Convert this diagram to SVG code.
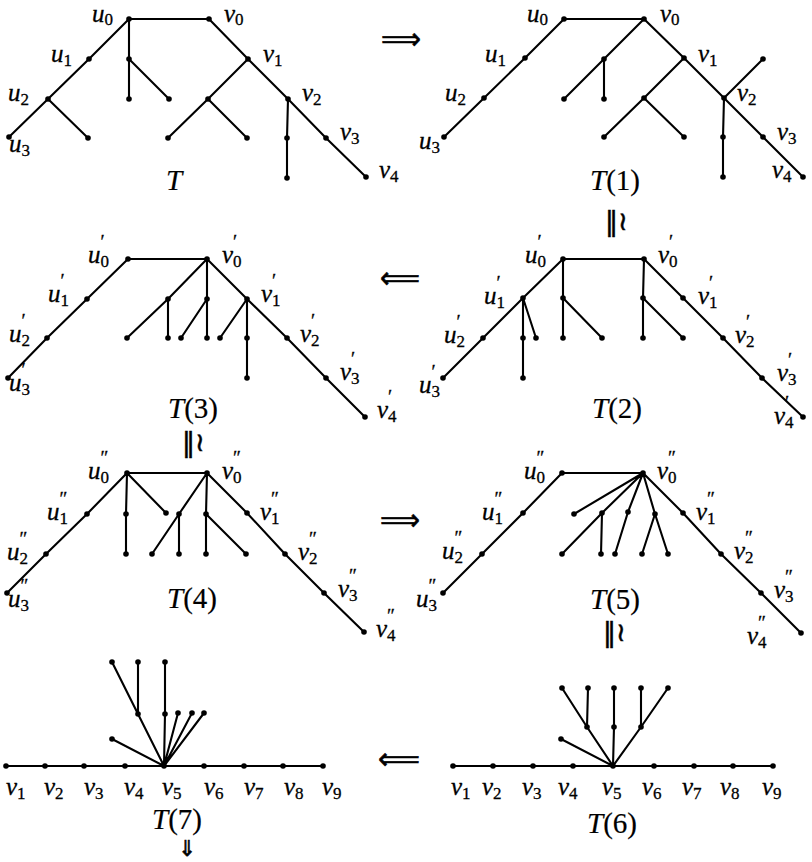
<svg xmlns="http://www.w3.org/2000/svg" width="812" height="862" viewBox="0 0 812 862">
<style>
.e{stroke:#000;stroke-width:2.1;fill:none;stroke-linecap:round;stroke-linejoin:round}
.l{font-family:"Liberation Serif",serif;font-style:italic;font-size:25px;fill:#000;stroke:#000;stroke-width:0.3}
.s{font-style:normal;font-size:17px}
.p{font-style:normal;font-size:19px}
.t{font-family:"Liberation Serif",serif;font-size:29px;fill:#000;text-anchor:middle;stroke:#000;stroke-width:0.2}
.t tspan.i{font-style:italic}
.a{font-family:"DejaVu Sans",sans-serif;font-size:30px;fill:#000;stroke:#000;stroke-width:0.6}
.dn{font-family:"DejaVu Sans",sans-serif;font-size:22px;fill:#000;stroke:#000;stroke-width:0.6}
.iso{font-family:"DejaVu Sans",sans-serif;font-size:26px;fill:#000;stroke:#000;stroke-width:0.5}
</style>
<defs><circle id="d" cx="0" cy="0" r="2.8" fill="#000"/></defs>
<rect width="812" height="862" fill="#fff"/>

<g id="connectors">
<path class="e" d="M129,19 L209,19 M129,19 L89,59 L48,99 L9,137 M48,99 L88,138 M129,19 L129,59 L129,99 M129,59 L169,99 M209,19 L248,59 L288,99 L326,138 L366,177 M248,59 L208,99 L168,138 M208,99 L247,138 M288,99 L287,138 L287,178"/>
<path class="e" d="M564,19 L644,19 M564,19 L525,58 L484,98 L444,137 M644,19 L604,59 L564,99 M604,59 L604,99 M644,19 L684,58 L724,98 L763,137 L803,177 M684,58 L644,98 L604,137 M644,98 L684,137 M724,98 L763,59 M724,98 L723,137 L723,177"/>
<path class="e" d="M128,259 L207,259 M128,259 L87,299 L47,338 L8,378 M207,259 L168,299 L127,338 M168,299 L168,338 M207,259 L207,299 L207,338 M207,299 L181,338 M207,259 L247,299 L287,338 L326,378 L365,417 M247,299 L220,338 M247,299 L247,338 L247,378"/>
<path class="e" d="M563,259 L644,259 M563,259 L523,298 L483,338 L443,378 M523,298 L523,338 L523,378 M523,298 L536,338 M563,259 L563,298 L563,338 M563,298 L602,338 M644,259 L643,298 L643,338 M643,298 L683,338 M644,259 L683,298 L723,338 L762,378 L803,417"/>
<path class="e" d="M127,473 L207,473 M127,473 L87,514 L46,554 L7,593 M127,473 L126,514 L126,554 M127,473 L166,513 M207,473 L179,514 L152,554 M179,514 L179,554 M207,473 L206,514 L206,554 M206,514 L246,554 M207,473 L247,513 L285,554 L324,593 L364,632"/>
<path class="e" d="M562,473 L643,473 M562,473 L523,513 L482,554 L443,593 M643,473 L574,514 M643,473 L602,513 L562,554 M602,513 L601,554 M643,473 L628,512 L615,554 M643,473 L655,514 L642,554 M655,514 L668,554 M643,473 L683,513 L721,554 L761,593 L801,633"/>
<path class="e" d="M6,766 L323,766 M164,766 L112,739 M164,766 L138,714 L112,662 M138,714 L138,662 M164,766 L165,714 L165,662 M164,766 L178,713 M164,766 L192,713 M164,766 L204,713"/>
<path class="e" d="M453,766 L773,766 M613,766 L561,739 M613,766 L587,727 L562,688 M587,727 L588,688 M613,766 L614,727 L614,688 M613,766 L641,727 L668,688 M641,727 L641,688"/>
</g>

<g id="arrows">
<text class="a" x="381" y="49" textLength="40" lengthAdjust="spacingAndGlyphs">⟹</text>
<text class="a" x="380" y="288" textLength="40" lengthAdjust="spacingAndGlyphs">⟸</text>
<text class="a" x="380" y="530" textLength="40" lengthAdjust="spacingAndGlyphs">⟹</text>
<text class="a" x="378" y="769" textLength="42" lengthAdjust="spacingAndGlyphs">⟸</text>
<text class="iso" x="605" y="230">‖≀</text>
<text class="iso" x="182" y="451">‖≀</text>
<text class="iso" x="603" y="641">‖≀</text>
<text class="dn" x="178" y="856">⇓</text>
</g>

<g id="T">
<text class="t" x="174" y="190"><tspan class="i">T</tspan></text>
<g id="T-u0"><use href="#d" x="129" y="19"/><text class="l" x="92" y="22">u<tspan class="s" dy="3">0</tspan></text></g>
<g id="T-v0"><use href="#d" x="209" y="19"/><text class="l" x="224" y="22">v<tspan class="s" dy="3">0</tspan></text></g>
<g id="T-u1"><use href="#d" x="89" y="59"/><text class="l" x="51" y="62">u<tspan class="s" dy="4">1</tspan></text></g>
<g id="T-v1"><use href="#d" x="248" y="59"/><text class="l" x="263" y="62">v<tspan class="s" dy="4">1</tspan></text></g>
<g id="T-u2"><use href="#d" x="48" y="99"/><text class="l" x="8" y="101">u<tspan class="s" dy="4">2</tspan></text></g>
<g id="T-v2"><use href="#d" x="288" y="99"/><text class="l" x="302" y="101">v<tspan class="s" dy="4">2</tspan></text></g>
<g id="T-u3"><use href="#d" x="9" y="137"/><text class="l" x="9" y="152">u<tspan class="s" dy="4">3</tspan></text></g>
<g id="T-v3"><use href="#d" x="326" y="138"/><text class="l" x="340" y="140">v<tspan class="s" dy="4">3</tspan></text></g>
<g id="T-v4"><use href="#d" x="366" y="177"/><text class="l" x="379" y="178">v<tspan class="s" dy="4">4</tspan></text></g>
<g id="T-n1"><use href="#d" x="88" y="138"/></g>
<g id="T-n2"><use href="#d" x="129" y="59"/></g>
<g id="T-n3"><use href="#d" x="129" y="99"/></g>
<g id="T-n4"><use href="#d" x="169" y="99"/></g>
<g id="T-n5"><use href="#d" x="208" y="99"/></g>
<g id="T-n6"><use href="#d" x="168" y="138"/></g>
<g id="T-n7"><use href="#d" x="247" y="138"/></g>
<g id="T-n8"><use href="#d" x="287" y="138"/></g>
<g id="T-n9"><use href="#d" x="287" y="178"/></g>
</g>

<g id="T1">
<text class="t" x="615" y="190"><tspan class="i">T</tspan>(1)</text>
<g id="T1-u0"><use href="#d" x="564" y="19"/><text class="l" x="527" y="22">u<tspan class="s" dy="3">0</tspan></text></g>
<g id="T1-v0"><use href="#d" x="644" y="19"/><text class="l" x="660" y="22">v<tspan class="s" dy="3">0</tspan></text></g>
<g id="T1-u1"><use href="#d" x="525" y="58"/><text class="l" x="485" y="62">u<tspan class="s" dy="4">1</tspan></text></g>
<g id="T1-v1"><use href="#d" x="684" y="58"/><text class="l" x="698" y="62">v<tspan class="s" dy="4">1</tspan></text></g>
<g id="T1-u2"><use href="#d" x="484" y="98"/><text class="l" x="445" y="101">u<tspan class="s" dy="4">2</tspan></text></g>
<g id="T1-v2"><use href="#d" x="724" y="98"/><text class="l" x="737" y="101">v<tspan class="s" dy="4">2</tspan></text></g>
<g id="T1-u3"><use href="#d" x="444" y="137"/><text class="l" x="419" y="149">u<tspan class="s" dy="4">3</tspan></text></g>
<g id="T1-v3"><use href="#d" x="763" y="137"/><text class="l" x="777" y="140">v<tspan class="s" dy="4">3</tspan></text></g>
<g id="T1-v4"><use href="#d" x="803" y="177"/><text class="l" x="772" y="178">v<tspan class="s" dy="4">4</tspan></text></g>
<g id="T1-n1"><use href="#d" x="604" y="59"/></g>
<g id="T1-n2"><use href="#d" x="564" y="99"/></g>
<g id="T1-n3"><use href="#d" x="604" y="99"/></g>
<g id="T1-n4"><use href="#d" x="644" y="98"/></g>
<g id="T1-n5"><use href="#d" x="604" y="137"/></g>
<g id="T1-n6"><use href="#d" x="684" y="137"/></g>
<g id="T1-n7"><use href="#d" x="763" y="59"/></g>
<g id="T1-n8"><use href="#d" x="723" y="137"/></g>
<g id="T1-n9"><use href="#d" x="723" y="177"/></g>
</g>

<g id="T3">
<text class="t" x="193" y="418"><tspan class="i">T</tspan>(3)</text>
<g id="T3-u0"><use href="#d" x="128" y="259"/><text class="l" x="88" y="263">u<tspan class="s" dy="4">0</tspan><tspan class="p" dx="-8.5" dy="-19">′</tspan></text></g>
<g id="T3-v0"><use href="#d" x="207" y="259"/><text class="l" x="222" y="263">v<tspan class="s" dy="4">0</tspan><tspan class="p" dx="-8.5" dy="-19">′</tspan></text></g>
<g id="T3-u1"><use href="#d" x="87" y="299"/><text class="l" x="48" y="302">u<tspan class="s" dy="4">1</tspan><tspan class="p" dx="-8.5" dy="-19">′</tspan></text></g>
<g id="T3-v1"><use href="#d" x="247" y="299"/><text class="l" x="261" y="302">v<tspan class="s" dy="4">1</tspan><tspan class="p" dx="-8.5" dy="-19">′</tspan></text></g>
<g id="T3-u2"><use href="#d" x="47" y="338"/><text class="l" x="9" y="342">u<tspan class="s" dy="4">2</tspan><tspan class="p" dx="-8.5" dy="-19">′</tspan></text></g>
<g id="T3-v2"><use href="#d" x="287" y="338"/><text class="l" x="300" y="342">v<tspan class="s" dy="4">2</tspan><tspan class="p" dx="-8.5" dy="-19">′</tspan></text></g>
<g id="T3-u3"><use href="#d" x="8" y="378"/><text class="l" x="9" y="391">u<tspan class="s" dy="4">3</tspan><tspan class="p" dx="-8.5" dy="-19">′</tspan></text></g>
<g id="T3-v3"><use href="#d" x="326" y="378"/><text class="l" x="340" y="380">v<tspan class="s" dy="4">3</tspan><tspan class="p" dx="-8.5" dy="-19">′</tspan></text></g>
<g id="T3-v4"><use href="#d" x="365" y="417"/><text class="l" x="377" y="418">v<tspan class="s" dy="4">4</tspan><tspan class="p" dx="-8.5" dy="-19">′</tspan></text></g>
<g id="T3-n1"><use href="#d" x="168" y="299"/></g>
<g id="T3-n2"><use href="#d" x="127" y="338"/></g>
<g id="T3-n3"><use href="#d" x="168" y="338"/></g>
<g id="T3-n4"><use href="#d" x="207" y="299"/></g>
<g id="T3-n5"><use href="#d" x="207" y="338"/></g>
<g id="T3-n6"><use href="#d" x="181" y="338"/></g>
<g id="T3-n7"><use href="#d" x="220" y="338"/></g>
<g id="T3-n8"><use href="#d" x="247" y="338"/></g>
<g id="T3-n9"><use href="#d" x="247" y="378"/></g>
</g>

<g id="T2">
<text class="t" x="617" y="418"><tspan class="i">T</tspan>(2)</text>
<g id="T2-u0"><use href="#d" x="563" y="259"/><text class="l" x="525" y="263">u<tspan class="s" dy="4">0</tspan><tspan class="p" dx="-8.5" dy="-19">′</tspan></text></g>
<g id="T2-v0"><use href="#d" x="644" y="259"/><text class="l" x="658" y="263">v<tspan class="s" dy="4">0</tspan><tspan class="p" dx="-8.5" dy="-19">′</tspan></text></g>
<g id="T2-u1"><use href="#d" x="523" y="298"/><text class="l" x="484" y="304">u<tspan class="s" dy="4">1</tspan><tspan class="p" dx="-8.5" dy="-19">′</tspan></text></g>
<g id="T2-v1"><use href="#d" x="683" y="298"/><text class="l" x="698" y="304">v<tspan class="s" dy="4">1</tspan><tspan class="p" dx="-8.5" dy="-19">′</tspan></text></g>
<g id="T2-u2"><use href="#d" x="483" y="338"/><text class="l" x="444" y="343">u<tspan class="s" dy="4">2</tspan><tspan class="p" dx="-8.5" dy="-19">′</tspan></text></g>
<g id="T2-v2"><use href="#d" x="723" y="338"/><text class="l" x="735" y="343">v<tspan class="s" dy="4">2</tspan><tspan class="p" dx="-8.5" dy="-19">′</tspan></text></g>
<g id="T2-u3"><use href="#d" x="443" y="378"/><text class="l" x="419" y="393">u<tspan class="s" dy="4">3</tspan><tspan class="p" dx="-8.5" dy="-19">′</tspan></text></g>
<g id="T2-v3"><use href="#d" x="762" y="378"/><text class="l" x="777" y="381">v<tspan class="s" dy="4">3</tspan><tspan class="p" dx="-8.5" dy="-19">′</tspan></text></g>
<g id="T2-v4"><use href="#d" x="803" y="417"/><text class="l" x="774" y="424">v<tspan class="s" dy="4">4</tspan><tspan class="p" dx="-8.5" dy="-19">′</tspan></text></g>
<g id="T2-n1"><use href="#d" x="523" y="338"/></g>
<g id="T2-n2"><use href="#d" x="523" y="378"/></g>
<g id="T2-n3"><use href="#d" x="536" y="338"/></g>
<g id="T2-n4"><use href="#d" x="563" y="298"/></g>
<g id="T2-n5"><use href="#d" x="563" y="338"/></g>
<g id="T2-n6"><use href="#d" x="602" y="338"/></g>
<g id="T2-n7"><use href="#d" x="643" y="298"/></g>
<g id="T2-n8"><use href="#d" x="643" y="338"/></g>
<g id="T2-n9"><use href="#d" x="683" y="338"/></g>
</g>

<g id="T4">
<text class="t" x="192" y="608"><tspan class="i">T</tspan>(4)</text>
<g id="T4-u0"><use href="#d" x="127" y="473"/><text class="l" x="88" y="479">u<tspan class="s" dy="4">0</tspan><tspan class="p" dx="-8.5" dy="-19">″</tspan></text></g>
<g id="T4-v0"><use href="#d" x="207" y="473"/><text class="l" x="222" y="479">v<tspan class="s" dy="4">0</tspan><tspan class="p" dx="-8.5" dy="-19">″</tspan></text></g>
<g id="T4-u1"><use href="#d" x="87" y="514"/><text class="l" x="47" y="520">u<tspan class="s" dy="4">1</tspan><tspan class="p" dx="-8.5" dy="-19">″</tspan></text></g>
<g id="T4-v1"><use href="#d" x="247" y="513"/><text class="l" x="260" y="520">v<tspan class="s" dy="4">1</tspan><tspan class="p" dx="-8.5" dy="-19">″</tspan></text></g>
<g id="T4-u2"><use href="#d" x="46" y="554"/><text class="l" x="7" y="560">u<tspan class="s" dy="4">2</tspan><tspan class="p" dx="-8.5" dy="-19">″</tspan></text></g>
<g id="T4-v2"><use href="#d" x="285" y="554"/><text class="l" x="298" y="560">v<tspan class="s" dy="4">2</tspan><tspan class="p" dx="-8.5" dy="-19">″</tspan></text></g>
<g id="T4-u3"><use href="#d" x="7" y="593"/><text class="l" x="8" y="607">u<tspan class="s" dy="4">3</tspan><tspan class="p" dx="-8.5" dy="-19">″</tspan></text></g>
<g id="T4-v3"><use href="#d" x="324" y="593"/><text class="l" x="338" y="597">v<tspan class="s" dy="4">3</tspan><tspan class="p" dx="-8.5" dy="-19">″</tspan></text></g>
<g id="T4-v4"><use href="#d" x="364" y="632"/><text class="l" x="376" y="637">v<tspan class="s" dy="4">4</tspan><tspan class="p" dx="-8.5" dy="-19">″</tspan></text></g>
<g id="T4-n1"><use href="#d" x="126" y="514"/></g>
<g id="T4-n2"><use href="#d" x="126" y="554"/></g>
<g id="T4-n3"><use href="#d" x="166" y="513"/></g>
<g id="T4-n4"><use href="#d" x="179" y="514"/></g>
<g id="T4-n5"><use href="#d" x="152" y="554"/></g>
<g id="T4-n6"><use href="#d" x="179" y="554"/></g>
<g id="T4-n7"><use href="#d" x="206" y="514"/></g>
<g id="T4-n8"><use href="#d" x="206" y="554"/></g>
<g id="T4-n9"><use href="#d" x="246" y="554"/></g>
</g>

<g id="T5">
<text class="t" x="615" y="609"><tspan class="i">T</tspan>(5)</text>
<g id="T5-u0"><use href="#d" x="562" y="473"/><text class="l" x="524" y="479">u<tspan class="s" dy="4">0</tspan><tspan class="p" dx="-8.5" dy="-19">″</tspan></text></g>
<g id="T5-v0"><use href="#d" x="643" y="473"/><text class="l" x="657" y="479">v<tspan class="s" dy="4">0</tspan><tspan class="p" dx="-8.5" dy="-19">″</tspan></text></g>
<g id="T5-u1"><use href="#d" x="523" y="513"/><text class="l" x="482" y="520">u<tspan class="s" dy="4">1</tspan><tspan class="p" dx="-8.5" dy="-19">″</tspan></text></g>
<g id="T5-v1"><use href="#d" x="683" y="513"/><text class="l" x="696" y="520">v<tspan class="s" dy="4">1</tspan><tspan class="p" dx="-8.5" dy="-19">″</tspan></text></g>
<g id="T5-u2"><use href="#d" x="482" y="554"/><text class="l" x="442" y="559">u<tspan class="s" dy="4">2</tspan><tspan class="p" dx="-8.5" dy="-19">″</tspan></text></g>
<g id="T5-v2"><use href="#d" x="721" y="554"/><text class="l" x="734" y="559">v<tspan class="s" dy="4">2</tspan><tspan class="p" dx="-8.5" dy="-19">″</tspan></text></g>
<g id="T5-u3"><use href="#d" x="443" y="593"/><text class="l" x="416" y="607">u<tspan class="s" dy="4">3</tspan><tspan class="p" dx="-8.5" dy="-19">″</tspan></text></g>
<g id="T5-v3"><use href="#d" x="761" y="593"/><text class="l" x="774" y="598">v<tspan class="s" dy="4">3</tspan><tspan class="p" dx="-8.5" dy="-19">″</tspan></text></g>
<g id="T5-v4"><use href="#d" x="801" y="633"/><text class="l" x="747" y="644">v<tspan class="s" dy="4">4</tspan><tspan class="p" dx="-8.5" dy="-19">″</tspan></text></g>
<g id="T5-n1"><use href="#d" x="574" y="514"/></g>
<g id="T5-n2"><use href="#d" x="602" y="513"/></g>
<g id="T5-n3"><use href="#d" x="562" y="554"/></g>
<g id="T5-n4"><use href="#d" x="601" y="554"/></g>
<g id="T5-n5"><use href="#d" x="628" y="512"/></g>
<g id="T5-n6"><use href="#d" x="615" y="554"/></g>
<g id="T5-n7"><use href="#d" x="655" y="514"/></g>
<g id="T5-n8"><use href="#d" x="642" y="554"/></g>
<g id="T5-n9"><use href="#d" x="668" y="554"/></g>
</g>

<g id="T7">
<text class="t" x="177" y="829"><tspan class="i">T</tspan>(7)</text>
<g id="T7-v1"><use href="#d" x="6" y="766"/><text class="l" x="6" y="795">v<tspan class="s" dy="4">1</tspan></text></g>
<g id="T7-v2"><use href="#d" x="45" y="766"/><text class="l" x="44" y="795">v<tspan class="s" dy="4">2</tspan></text></g>
<g id="T7-v3"><use href="#d" x="84" y="766"/><text class="l" x="84" y="795">v<tspan class="s" dy="4">3</tspan></text></g>
<g id="T7-v4"><use href="#d" x="125" y="766"/><text class="l" x="124" y="795">v<tspan class="s" dy="4">4</tspan></text></g>
<g id="T7-v5"><use href="#d" x="164" y="766"/><text class="l" x="162" y="795">v<tspan class="s" dy="4">5</tspan></text></g>
<g id="T7-v6"><use href="#d" x="204" y="766"/><text class="l" x="204" y="795">v<tspan class="s" dy="4">6</tspan></text></g>
<g id="T7-v7"><use href="#d" x="244" y="766"/><text class="l" x="244" y="795">v<tspan class="s" dy="4">7</tspan></text></g>
<g id="T7-v8"><use href="#d" x="283" y="766"/><text class="l" x="284" y="795">v<tspan class="s" dy="4">8</tspan></text></g>
<g id="T7-v9"><use href="#d" x="323" y="766"/><text class="l" x="322" y="795">v<tspan class="s" dy="4">9</tspan></text></g>
<g id="T7-n1"><use href="#d" x="112" y="739"/></g>
<g id="T7-n2"><use href="#d" x="138" y="714"/></g>
<g id="T7-n3"><use href="#d" x="112" y="662"/></g>
<g id="T7-n4"><use href="#d" x="138" y="662"/></g>
<g id="T7-n5"><use href="#d" x="165" y="714"/></g>
<g id="T7-n6"><use href="#d" x="165" y="662"/></g>
<g id="T7-n7"><use href="#d" x="178" y="713"/></g>
<g id="T7-n8"><use href="#d" x="192" y="713"/></g>
<g id="T7-n9"><use href="#d" x="204" y="713"/></g>
</g>

<g id="T6">
<text class="t" x="612" y="833"><tspan class="i">T</tspan>(6)</text>
<g id="T6-v1"><use href="#d" x="453" y="766"/><text class="l" x="451" y="795">v<tspan class="s" dy="4">1</tspan></text></g>
<g id="T6-v2"><use href="#d" x="493" y="766"/><text class="l" x="482" y="795">v<tspan class="s" dy="4">2</tspan></text></g>
<g id="T6-v3"><use href="#d" x="533" y="766"/><text class="l" x="522" y="795">v<tspan class="s" dy="4">3</tspan></text></g>
<g id="T6-v4"><use href="#d" x="573" y="766"/><text class="l" x="558" y="795">v<tspan class="s" dy="4">4</tspan></text></g>
<g id="T6-v5"><use href="#d" x="613" y="766"/><text class="l" x="602" y="795">v<tspan class="s" dy="4">5</tspan></text></g>
<g id="T6-v6"><use href="#d" x="654" y="766"/><text class="l" x="642" y="795">v<tspan class="s" dy="4">6</tspan></text></g>
<g id="T6-v7"><use href="#d" x="694" y="766"/><text class="l" x="682" y="795">v<tspan class="s" dy="4">7</tspan></text></g>
<g id="T6-v8"><use href="#d" x="733" y="766"/><text class="l" x="720" y="795">v<tspan class="s" dy="4">8</tspan></text></g>
<g id="T6-v9"><use href="#d" x="773" y="766"/><text class="l" x="762" y="795">v<tspan class="s" dy="4">9</tspan></text></g>
<g id="T6-n1"><use href="#d" x="561" y="739"/></g>
<g id="T6-n2"><use href="#d" x="587" y="727"/></g>
<g id="T6-n3"><use href="#d" x="562" y="688"/></g>
<g id="T6-n4"><use href="#d" x="588" y="688"/></g>
<g id="T6-n5"><use href="#d" x="614" y="727"/></g>
<g id="T6-n6"><use href="#d" x="614" y="688"/></g>
<g id="T6-n7"><use href="#d" x="641" y="727"/></g>
<g id="T6-n8"><use href="#d" x="641" y="688"/></g>
<g id="T6-n9"><use href="#d" x="668" y="688"/></g>
</g>
</svg>
